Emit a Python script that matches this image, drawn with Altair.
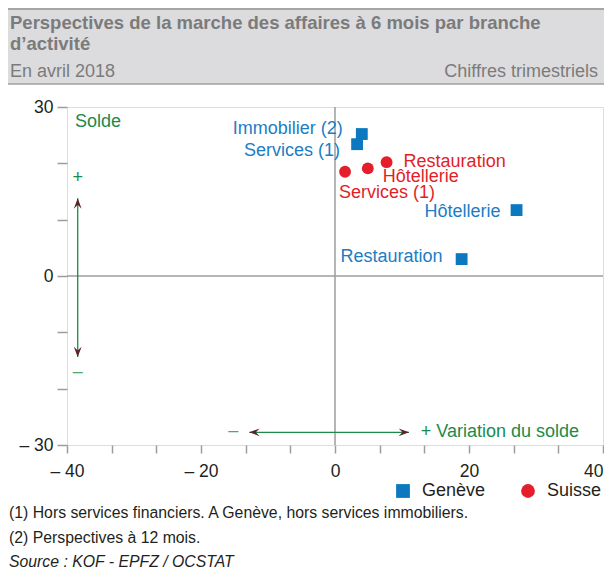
import altair as alt
import pandas as pd

# ---------------- data ----------------
geneve_branches = ["Immobilier (2)", "Services (1)", "Hôtellerie", "Restauration"]
geneve_variation = [4.0, 3.3, 27.1, 18.9]
geneve_solde = [25.2, 23.4, 11.7, 3.0]

suisse_branches = ["Services (1)", "Hôtellerie", "Restauration"]
suisse_variation = [1.5, 4.9, 7.7]
suisse_solde = [18.5, 19.1, 20.2]

series_names = ["Genève", "Suisse"]
series_colors = ["#0b78bf", "#e41e2b"]
label_colors = ["#1c7dc3", "#e31e27"]

title_lines = ["Perspectives de la marche des affaires à 6 mois par branche", "d’activité"]
subtitle_left = "En avril 2018"
subtitle_right = "Chiffres trimestriels"
footnotes = [
    "(1) Hors services financiers. A Genève, hors services immobiliers.",
    "(2) Perspectives à 12 mois.",
]
source_text = "Source : KOF - EPFZ / OCSTAT"

df = pd.DataFrame({
    "serie": [series_names[0]] * len(geneve_branches) + [series_names[1]] * len(suisse_branches),
    "branche": geneve_branches + suisse_branches,
    "variation": geneve_variation + suisse_variation,
    "solde": geneve_solde + suisse_solde,
})

# label layout (align, dx, dy) per point
label_layout = {
    ("Genève", "Immobilier (2)"): ("right", -19, -5),
    ("Genève", "Services (1)"): ("right", -17, 7),
    ("Genève", "Hôtellerie"): ("right", -16, 2),
    ("Genève", "Restauration"): ("right", -19, -2),
    ("Suisse", "Restauration"): ("left", 17, 0),
    ("Suisse", "Hôtellerie"): ("left", 15, 9),
    ("Suisse", "Services (1)"): ("left", -6, 21),
}

FONT = "Liberation Sans"
GREEN = "#1b8a4a"
ARROWHEAD = "#5a2327"
GRAY = "#9c9c9c"
LBL = 18

W, H = 536, 338
xs = alt.Scale(domain=[-40, 40], nice=False, zero=False)
ys = alt.Scale(domain=[-30, 30], nice=False, zero=False)

x_tick_values = [-40 + i * 20 / 3 for i in range(13)]
y_tick_values = [-30, -20, -10, 0, 10, 20, 30]

x_axis = alt.Axis(
    values=x_tick_values,
    labelExpr="abs(datum.value % 20) < 0.01 ? (datum.value < 0 ? '– ' + abs(round(datum.value)) : '' + round(datum.value)) : ''",
    title=None, grid=False, domain=False, tickColor=GRAY, tickWidth=1.5, tickSize=8,
    labelFont=FONT, labelFontSize=17.5, labelColor="#231f20", labelPadding=9,
    labelOverlap=False, labelBound=False, labelFlush=False,
    labelAlign={"condition": {"test": "datum.value > 39", "value": "right"}, "value": "center"},
)
y_axis = alt.Axis(
    values=y_tick_values,
    labelExpr="abs(datum.value % 30) < 0.01 ? (datum.value < 0 ? '– ' + abs(round(datum.value)) : '' + round(datum.value)) : ''",
    title=None, grid=False, domain=False, tickColor=GRAY, tickWidth=1.5, tickSize=10,
    labelFont=FONT, labelFontSize=17.5, labelColor="#231f20", labelPadding=4,
    labelOverlap=False, labelBound=False,
)

one = pd.DataFrame({"k": [0]})

def txt(text, x, y, align="left", size=LBL, color="#231f20", weight="normal", style="normal", baseline="alphabetic", pixel=True):
    enc = dict(x=alt.value(x), y=alt.value(y)) if pixel else dict(x=alt.X(datum=x, scale=xs), y=alt.Y(datum=y, scale=ys))
    return alt.Chart(one).mark_text(
        text=text, align=align, baseline=baseline, font=FONT, fontSize=size,
        color=color, fontWeight=weight, fontStyle=style,
    ).encode(**enc)

layers = []

# header block
layers.append(alt.Chart(one).mark_rect(color="#dcdcde").encode(
    x=alt.value(-59), x2=alt.value(537), y=alt.value(-99), y2=alt.value(-23)))
layers.append(alt.Chart(one).mark_rule(color="#a6a6a6", strokeWidth=2).encode(
    x=alt.value(-59), x2=alt.value(537), y=alt.value(-98)))
layers.append(alt.Chart(one).mark_rule(color="#a0a0a0", strokeWidth=1.5).encode(
    x=alt.value(-59), x2=alt.value(537), y=alt.value(-23)))
layers.append(txt(title_lines[0], -57, -78, size=18.5, color="#7b7b7b", weight="bold"))
layers.append(txt(title_lines[1], -57, -57, size=18.5, color="#7b7b7b", weight="bold"))
layers.append(txt(subtitle_left, -57, -30, size=18, color="#7b7b7b"))
layers.append(txt(subtitle_right, 531, -30, align="right", size=18, color="#7b7b7b"))

# zero lines
layers.append(alt.Chart(one).mark_rule(color=GRAY, strokeWidth=1.5).encode(
    x=alt.X(datum=0, scale=xs, axis=x_axis)))
layers.append(alt.Chart(one).mark_rule(color=GRAY, strokeWidth=1.5).encode(
    y=alt.Y(datum=0, scale=ys, axis=y_axis)))

# annotations (in data units)
layers.append(txt("Solde", -38.8, 27.4, color=GREEN, baseline="middle", pixel=False))
layers.append(txt("+", -38.4, 17.4, align="center", color=GREEN, baseline="middle", pixel=False))
layers.append(txt("–", -38.4, -17.0, align="center", color="#4fa574", baseline="middle", pixel=False))
layers.append(txt("–", -15.2, -27.5, align="center", color="#4fa574", baseline="middle", pixel=False))
layers.append(txt("+ Variation du solde", 12.8, -27.7, color=GREEN, baseline="middle", pixel=False))

layers.append(alt.Chart(one).mark_rule(color=GREEN, strokeWidth=1.3).encode(
    x=alt.X(datum=-38.4, scale=xs), y=alt.Y(datum=13.8, scale=ys), y2=alt.Y2(datum=-14.4)))
layers.append(alt.Chart(one).mark_rule(color=GREEN, strokeWidth=1.3).encode(
    x=alt.X(datum=-12.8, scale=xs), x2=alt.X2(datum=11.05), y=alt.Y(datum=-27.75, scale=ys)))

heads = [
    ("M 0 0 L -0.6 1.6 L 0 1.0 L 0.6 1.6 Z", -38.4, 13.8),
    ("M 0 0 L -0.6 -1.6 L 0 -1.0 L 0.6 -1.6 Z", -38.4, -14.4),
    ("M 0 0 L 1.6 -0.6 L 1.0 0 L 1.6 0.6 Z", -12.8, -27.75),
    ("M 0 0 L -1.6 -0.6 L -1.0 0 L -1.6 0.6 Z", 11.05, -27.75),
]
for path, hx, hy in heads:
    layers.append(alt.Chart(one).mark_point(shape=path, filled=True, size=170, color=ARROWHEAD, opacity=1, strokeWidth=0).encode(
        x=alt.X(datum=hx, scale=xs), y=alt.Y(datum=hy, scale=ys)))

# points
color_scale = alt.Scale(domain=series_names, range=series_colors)
shape_scale = alt.Scale(domain=series_names, range=["square", "circle"])
legend = alt.Legend(
    orient="none", legendX=327, legendY=375, direction="horizontal", title=None,
    labelFont=FONT, labelFontSize=LBL, labelColor="#231f20", symbolSize=190,
    labelOffset=10, columnPadding=33, symbolStrokeWidth=0, padding=0,
)
layers.append(alt.Chart(df).mark_point(filled=True, size=140, opacity=1, strokeWidth=0).encode(
    x=alt.X("variation:Q", scale=xs, axis=x_axis),
    y=alt.Y("solde:Q", scale=ys, axis=y_axis),
    color=alt.Color("serie:N", scale=color_scale, legend=legend),
    shape=alt.Shape("serie:N", scale=shape_scale, legend=legend),
))

# point labels
for (serie, branche), (align, dx, dy) in label_layout.items():
    col = label_colors[series_names.index(serie)]
    layers.append(alt.Chart(df).transform_filter(
        (alt.datum.serie == serie) & (alt.datum.branche == branche)
    ).mark_text(align=align, baseline="middle", dx=dx, dy=dy, font=FONT, fontSize=LBL, color=col).encode(
        x=alt.X("variation:Q", scale=xs),
        y=alt.Y("solde:Q", scale=ys),
        text="branche:N",
    ))

# footnotes
layers.append(txt(footnotes[0], -58, 411, size=15.8))
layers.append(txt(footnotes[1], -58, 436, size=15.8))
layers.append(txt(source_text, -58, 460, size=15.8, style="italic"))

chart = alt.layer(*layers).properties(
    width=W, height=H,
    autosize=alt.AutoSizeParams(type="none"),
    padding={"left": 59, "top": 99, "right": 1, "bottom": 125},
).configure_view(
    fill="#d9d9db", stroke=GRAY, strokeWidth=1.5
).configure(background="white")

chart.save("out.html", embed_options={"renderer": "svg", "actions": False})
